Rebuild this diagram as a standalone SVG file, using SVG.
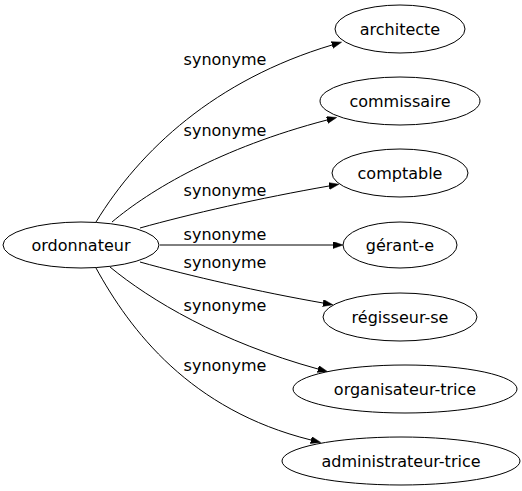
<svg xmlns="http://www.w3.org/2000/svg" width="522" height="491" viewBox="0 0 522 491">
<defs>
<style>
.node ellipse{fill:#fff;stroke:#000;stroke-width:1}
text{font-family:"DejaVu Sans",sans-serif;font-size:16px;fill:#000;text-anchor:middle}
.edge path{fill:none;stroke:#000;stroke-width:1}
</style>
<marker id="arr" markerUnits="userSpaceOnUse" markerWidth="11" markerHeight="8" refX="0" refY="3.5" orient="auto">
<path d="M0,0 L10,3.5 L0,7 z" fill="#000" stroke="#000" stroke-width="0.5"/>
</marker>
</defs>
<rect width="522" height="491" fill="#fff"/>
<g id="edges" class="edge">
<path d="M96,222 C140,150 215,80 332,45" marker-end="url(#arr)"/>
<path d="M112,222 C150,190 220,148 327,120" marker-end="url(#arr)"/>
<path d="M140,228 C190,214 260,198 329,186" marker-end="url(#arr)"/>
<path d="M160,245 L333,245" marker-end="url(#arr)"/>
<path d="M140,262 C190,276 260,292 323,303" marker-end="url(#arr)"/>
<path d="M110,267 C150,300 220,342 318,369" marker-end="url(#arr)"/>
<path d="M96,268 C130,330 190,410 311,440" marker-end="url(#arr)"/>
<text x="225" y="65">synonyme</text>
<text x="225" y="136">synonyme</text>
<text x="225" y="196">synonyme</text>
<text x="225" y="240">synonyme</text>
<text x="225" y="268">synonyme</text>
<text x="225" y="311">synonyme</text>
<text x="225" y="371">synonyme</text>
</g>
<g id="ordonnateur" class="node"><ellipse cx="81" cy="245" rx="78" ry="23"/><text x="81" y="250.5">ordonnateur</text></g>
<g id="architecte" class="node"><ellipse cx="400" cy="29" rx="65" ry="24"/><text x="400" y="34.5">architecte</text></g>
<g id="commissaire" class="node"><ellipse cx="400" cy="101" rx="80" ry="24"/><text x="400" y="106.5">commissaire</text></g>
<g id="comptable" class="node"><ellipse cx="400" cy="173" rx="68" ry="24"/><text x="400" y="178.5">comptable</text></g>
<g id="gerant-e" class="node"><ellipse cx="400" cy="245" rx="57" ry="23"/><text x="400" y="250.5">gérant-e</text></g>
<g id="regisseur-se" class="node"><ellipse cx="400" cy="317" rx="77" ry="24"/><text x="400" y="322.5">régisseur-se</text></g>
<g id="organisateur-trice" class="node"><ellipse cx="405" cy="389" rx="112" ry="24"/><text x="405" y="394.5">organisateur-trice</text></g>
<g id="administrateur-trice" class="node"><ellipse cx="401" cy="461" rx="119" ry="24"/><text x="401" y="466.5">administrateur-trice</text></g>
</svg>
